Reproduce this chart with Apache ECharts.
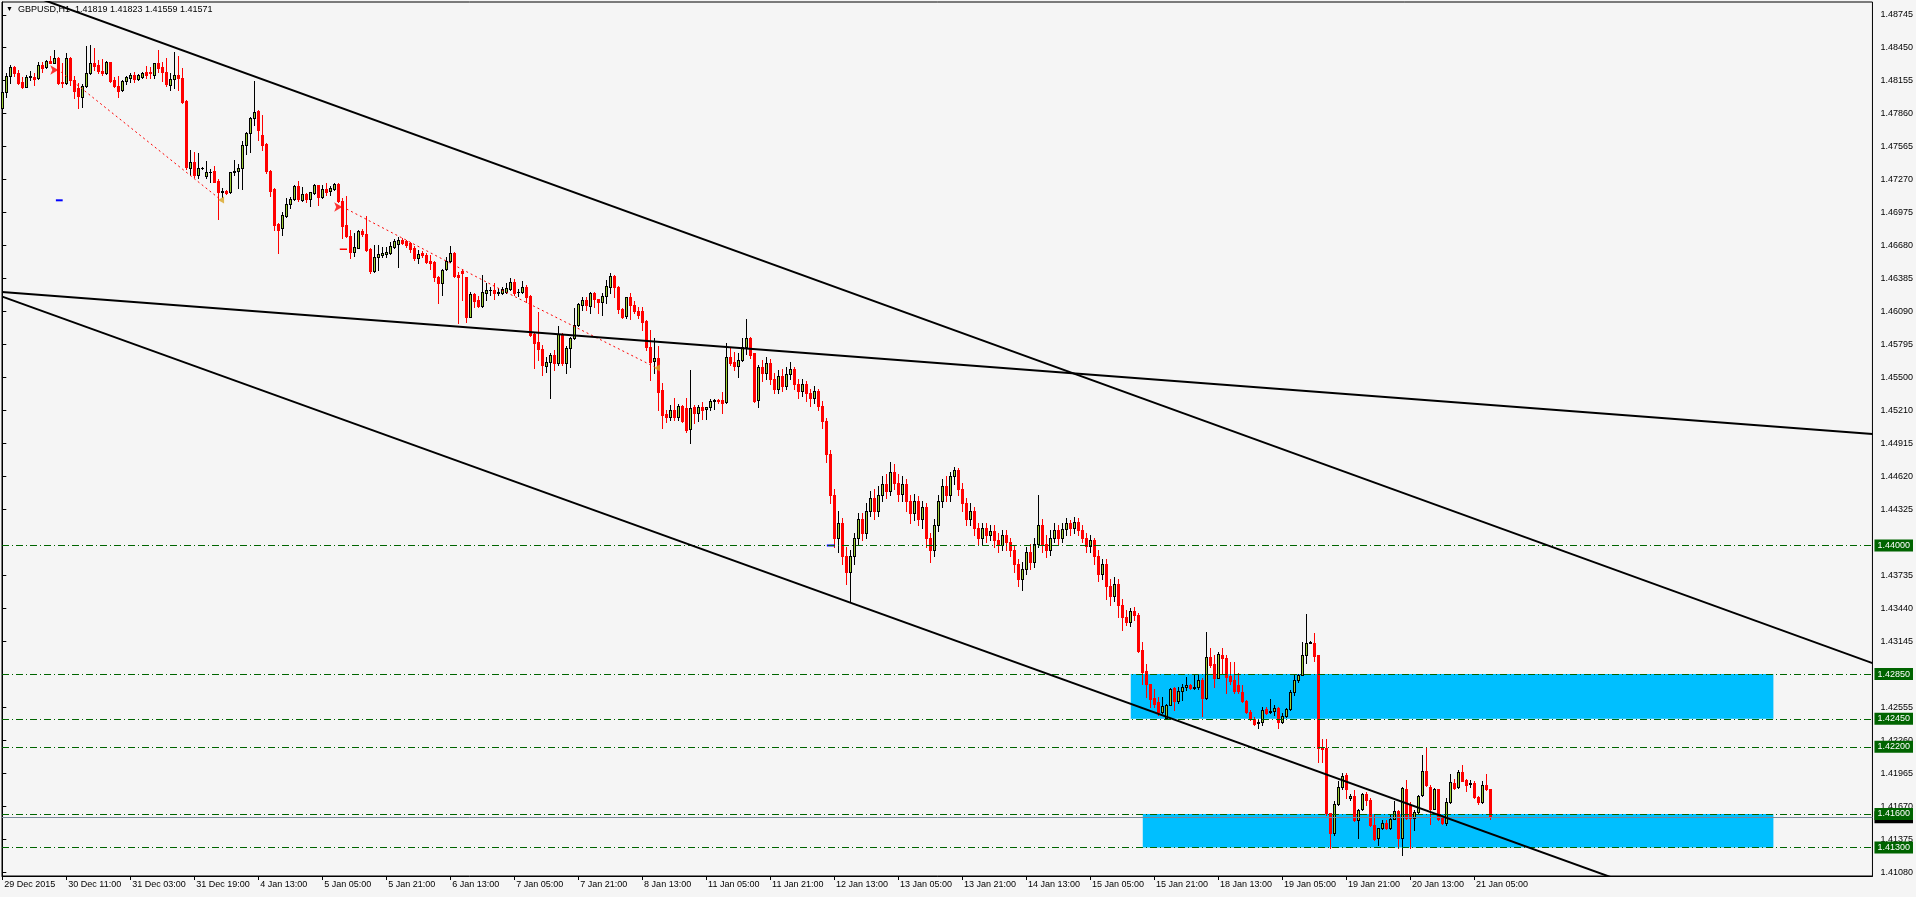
<!DOCTYPE html>
<html><head><meta charset="utf-8">
<script src="https://cdn.jsdelivr.net/npm/echarts@6/dist/echarts.min.js"></script>
<style>html,body{margin:0;padding:0;background:#f5f5f5}#c{width:1916px;height:897px}</style>
</head><body><div id="c"></div>
<script>
const timeLabels = ['29 Dec 2015','30 Dec 11:00','31 Dec 03:00','31 Dec 19:00','4 Jan 13:00','5 Jan 05:00','5 Jan 21:00','6 Jan 13:00','7 Jan 05:00','7 Jan 21:00','8 Jan 13:00','11 Jan 05:00','11 Jan 21:00','12 Jan 13:00','13 Jan 05:00','13 Jan 21:00','14 Jan 13:00','15 Jan 05:00','15 Jan 21:00','18 Jan 13:00','19 Jan 05:00','19 Jan 21:00','20 Jan 13:00','21 Jan 05:00'];
const priceTicks = [1.48745,1.48450,1.48155,1.47860,1.47565,1.47270,1.46975,1.46680,1.46385,1.46090,1.45795,1.45500,1.45210,1.44915,1.44620,1.44325,1.43735,1.43440,1.43145,1.42850,1.42555,1.42260,1.41965,1.41670,1.41375,1.41080];
// [open, high, low, close] per H1 bar
const bars = [
[1.47908,1.48087,1.47893,1.48057],[1.48057,1.48227,1.48013,1.48197],[1.48197,1.48296,1.48132,1.48275],[1.48275,1.48287,1.48197,1.48227],
[1.48227,1.48251,1.48126,1.48138],[1.48147,1.48185,1.48087,1.48102],[1.48102,1.48206,1.48096,1.48185],[1.48191,1.48245,1.48162,1.48197],
[1.48191,1.48227,1.48117,1.48174],[1.48177,1.48326,1.48171,1.48296],[1.48296,1.48326,1.48236,1.48272],[1.48275,1.48340,1.48266,1.48329],
[1.48332,1.48376,1.48311,1.48317],[1.48317,1.48430,1.48311,1.48355],[1.48361,1.48370,1.48126,1.48138],[1.48147,1.48311,1.48102,1.48132],
[1.48132,1.48400,1.48126,1.48355],[1.48355,1.48364,1.48117,1.48162],[1.48162,1.48197,1.47998,1.48066],[1.48087,1.48132,1.47908,1.48019],
[1.48013,1.48126,1.47917,1.48108],[1.48108,1.48466,1.48102,1.48221],[1.48221,1.48475,1.48215,1.48317],[1.48317,1.48445,1.48251,1.48287],
[1.48296,1.48340,1.48221,1.48245],[1.48245,1.48346,1.48206,1.48221],[1.48221,1.48329,1.48215,1.48323],[1.48323,1.48326,1.48147,1.48156],
[1.48162,1.48191,1.48102,1.48111],[1.48111,1.48197,1.48007,1.48066],[1.48072,1.48162,1.48066,1.48153],[1.48156,1.48197,1.48126,1.48185],
[1.48182,1.48220,1.48146,1.48206],[1.48206,1.48235,1.48146,1.48167],[1.48167,1.48212,1.48161,1.48206],[1.48191,1.48235,1.48176,1.48220],
[1.48229,1.48289,1.48176,1.48206],[1.48229,1.48280,1.48176,1.48220],[1.48206,1.48316,1.48176,1.48310],[1.48310,1.48429,1.48235,1.48271],
[1.48280,1.48325,1.48152,1.48229],[1.48235,1.48361,1.48110,1.48122],[1.48116,1.48220,1.48072,1.48167],[1.48167,1.48414,1.48086,1.48203],
[1.48206,1.48378,1.48072,1.48176],[1.48182,1.48265,1.47952,1.47967],[1.47973,1.47982,1.47365,1.47386],[1.47377,1.47535,1.47312,1.47431],
[1.47431,1.47520,1.47297,1.47312],[1.47312,1.47505,1.47282,1.47371],[1.47371,1.47383,1.47365,1.47377],[1.47306,1.47437,1.47282,1.47338],
[1.47335,1.47365,1.47252,1.47341],[1.47347,1.47395,1.47246,1.47252],[1.47258,1.47276,1.46918,1.47157],[1.47163,1.47198,1.47118,1.47169],
[1.47169,1.47178,1.47139,1.47148],[1.47157,1.47341,1.47151,1.47335],[1.47341,1.47446,1.47312,1.47347],[1.47350,1.47407,1.47192,1.47377],
[1.47377,1.47616,1.47186,1.47580],[1.47580,1.47699,1.47496,1.47684],[1.47684,1.47833,1.47520,1.47818],[1.47818,1.48150,1.47759,1.47872],
[1.47885,1.47893,1.47625,1.47715],[1.47670,1.47849,1.47536,1.47581],[1.47589,1.47595,1.47327,1.47351],[1.47351,1.47357,1.47125,1.47172],
[1.47187,1.47193,1.46821,1.46865],[1.46874,1.46880,1.46612,1.46821],[1.46836,1.46985,1.46776,1.46955],[1.46946,1.47104,1.46940,1.47050],
[1.47050,1.47113,1.47014,1.47095],[1.47095,1.47220,1.47089,1.47214],[1.47214,1.47259,1.47083,1.47095],[1.47089,1.47202,1.47083,1.47142],
[1.47142,1.47154,1.47074,1.47095],[1.47101,1.47163,1.47035,1.47160],[1.47154,1.47229,1.47142,1.47220],[1.47220,1.47223,1.47044,1.47119],
[1.47119,1.47223,1.47104,1.47187],[1.47187,1.47238,1.47137,1.47160],[1.47172,1.47214,1.47134,1.47196],[1.47184,1.47244,1.47178,1.47232],
[1.47232,1.47238,1.47074,1.47083],[1.47083,1.47104,1.46752,1.46859],[1.46865,1.47125,1.46761,1.46770],[1.46767,1.46821,1.46573,1.46624],
[1.46627,1.46791,1.46588,1.46666],[1.46663,1.46821,1.46657,1.46812],[1.46812,1.46827,1.46767,1.46782],[1.46785,1.46949,1.46636,1.46642],
[1.46651,1.46657,1.46439,1.46457],[1.46457,1.46687,1.46448,1.46582],[1.46582,1.46687,1.46463,1.46606],[1.46597,1.46671,1.46582,1.46618],
[1.46606,1.46671,1.46582,1.46627],[1.46618,1.46716,1.46606,1.46677],[1.46671,1.46740,1.46656,1.46722],[1.46695,1.46755,1.46493,1.46731],
[1.46731,1.46746,1.46695,1.46707],[1.46722,1.46731,1.46671,1.46686],[1.46701,1.46716,1.46627,1.46648],[1.46656,1.46677,1.46552,1.46567],
[1.46567,1.46642,1.46522,1.46606],[1.46618,1.46636,1.46576,1.46597],[1.46597,1.46612,1.46522,1.46537],[1.46546,1.46597,1.46469,1.46522],
[1.46537,1.46546,1.46367,1.46397],[1.46397,1.46409,1.46171,1.46344],[1.46344,1.46469,1.46239,1.46463],[1.46469,1.46576,1.46463,1.46546],
[1.46546,1.46677,1.46537,1.46612],[1.46618,1.46624,1.46403,1.46409],[1.46418,1.46448,1.45992,1.46397],[1.46457,1.46469,1.46195,1.46433],
[1.46397,1.46403,1.46001,1.46040],[1.46046,1.46269,1.46040,1.46248],[1.46248,1.46254,1.46135,1.46189],[1.46195,1.46230,1.46135,1.46141],
[1.46141,1.46418,1.46135,1.46269],[1.46260,1.46344,1.46195,1.46284],[1.46280,1.46314,1.46239,1.46284],[1.46284,1.46344,1.46201,1.46254],
[1.46254,1.46299,1.46239,1.46269],[1.46260,1.46314,1.46248,1.46290],[1.46269,1.46344,1.46254,1.46299],[1.46293,1.46388,1.46284,1.46352],
[1.46352,1.46379,1.46239,1.46260],[1.46263,1.46290,1.46230,1.46269],[1.46263,1.46367,1.46254,1.46308],[1.46308,1.46329,1.46180,1.46224],
[1.46230,1.46239,1.45873,1.45882],[1.45890,1.45902,1.45584,1.45813],[1.45822,1.46090,1.45658,1.45753],[1.45753,1.45792,1.45524,1.45613],
[1.45607,1.45688,1.45554,1.45637],[1.45637,1.45718,1.45315,1.45703],[1.45703,1.45747,1.45569,1.45628],[1.45628,1.45962,1.45613,1.45890],
[1.45890,1.45902,1.45613,1.45634],[1.45634,1.45783,1.45539,1.45762],[1.45762,1.45867,1.45592,1.45852],[1.45852,1.46120,1.45846,1.45971],
[1.45971,1.46171,1.45962,1.46159],[1.46150,1.46218,1.46105,1.46194],[1.46194,1.46224,1.46105,1.46150],[1.46144,1.46269,1.46081,1.46254],
[1.46260,1.46263,1.46135,1.46200],[1.46200,1.46200,1.46081,1.46180],[1.46180,1.46254,1.46060,1.46230],[1.46230,1.46373,1.46171,1.46320],
[1.46314,1.46433,1.46260,1.46409],[1.46409,1.46418,1.46224,1.46314],[1.46314,1.46320,1.46075,1.46111],[1.46111,1.46120,1.46031,1.46045],
[1.46051,1.46224,1.46031,1.46218],[1.46218,1.46254,1.46022,1.46150],[1.46150,1.46190,1.46075,1.46100],[1.46100,1.46130,1.46034,1.46060],
[1.46100,1.46130,1.45926,1.46001],[1.46007,1.46016,1.45747,1.45771],[1.45777,1.45926,1.45479,1.45643],[1.45652,1.45852,1.45539,1.45673],
[1.45673,1.45783,1.45211,1.45375],[1.45390,1.45455,1.45047,1.45166],[1.45175,1.45211,1.45107,1.45145],[1.45151,1.45256,1.45122,1.45211],
[1.45211,1.45315,1.45122,1.45151],[1.45151,1.45265,1.45122,1.45247],[1.45247,1.45256,1.45107,1.45116],[1.45229,1.45315,1.45017,1.45032],
[1.45038,1.45569,1.44919,1.45226],[1.45235,1.45256,1.45092,1.45187],[1.45187,1.45256,1.45116,1.45235],[1.45235,1.45283,1.45128,1.45211],
[1.45217,1.45241,1.45134,1.45235],[1.45235,1.45306,1.45211,1.45292],[1.45294,1.45306,1.45223,1.45300],[1.45300,1.45310,1.45270,1.45294],
[1.45300,1.45375,1.45187,1.45271],[1.45286,1.45807,1.45277,1.45682],[1.45682,1.45777,1.45613,1.45628],[1.45643,1.45733,1.45569,1.45604],
[1.45604,1.45724,1.45509,1.45658],[1.45658,1.45852,1.45652,1.45777],[1.45777,1.46022,1.45712,1.45852],[1.45852,1.45861,1.45673,1.45703],
[1.45718,1.45724,1.45286,1.45294],[1.45300,1.45613,1.45235,1.45598],
[1.45600,1.45655,1.45469,1.45545],[1.45545,1.45687,1.45491,1.45633],[1.45633,1.45666,1.45447,1.45491],[1.45491,1.45545,1.45360,1.45403],
[1.45403,1.45567,1.45360,1.45513],[1.45513,1.45578,1.45382,1.45425],[1.45425,1.45600,1.45403,1.45535],[1.45535,1.45644,1.45491,1.45578],
[1.45578,1.45600,1.45403,1.45447],[1.45447,1.45491,1.45316,1.45382],[1.45382,1.45491,1.45338,1.45447],[1.45447,1.45469,1.45294,1.45360],
[1.45360,1.45403,1.45251,1.45316],[1.45316,1.45425,1.45272,1.45382],[1.45382,1.45403,1.45207,1.45251],[1.45251,1.45294,1.45054,1.45109],
[1.45109,1.45141,1.44748,1.44814],[1.44814,1.44857,1.44377,1.44453],[1.44453,1.44508,1.43984,1.44071],[1.44071,1.44311,1.43940,1.44202],
[1.44202,1.44246,1.43831,1.43907],[1.43907,1.43984,1.43656,1.43765],[1.43765,1.43962,1.43503,1.43907],[1.43907,1.44115,1.43831,1.44071],
[1.44071,1.44290,1.44017,1.44235],[1.44235,1.44290,1.44049,1.44115],[1.44115,1.44377,1.44071,1.44311],[1.44311,1.44486,1.44268,1.44421],
[1.44421,1.44508,1.44235,1.44311],[1.44311,1.44530,1.44268,1.44453],[1.44453,1.44617,1.44399,1.44552],[1.44552,1.44639,1.44421,1.44486],
[1.44486,1.44748,1.44453,1.44661],[1.44661,1.44726,1.44508,1.44563],[1.44563,1.44639,1.44399,1.44464],[1.44464,1.44617,1.44399,1.44552],
[1.44552,1.44595,1.44311,1.44399],[1.44399,1.44453,1.44202,1.44290],[1.44290,1.44464,1.44224,1.44399],[1.44399,1.44442,1.44180,1.44235],
[1.44235,1.44399,1.44159,1.44344],[1.44344,1.44377,1.43984,1.44071],[1.44071,1.44115,1.43853,1.43962],[1.43962,1.44235,1.43907,1.44180],
[1.44180,1.44453,1.44126,1.44399],[1.44399,1.44595,1.44344,1.44530],[1.44530,1.44617,1.44399,1.44453],[1.44453,1.44661,1.44399,1.44617],
[1.44617,1.44705,1.44552,1.44672],[1.44672,1.44694,1.44453,1.44508],[1.44508,1.44563,1.44311,1.44377],[1.44377,1.44421,1.44180,1.44235],
[1.44235,1.44377,1.44180,1.44311],[1.44311,1.44344,1.44093,1.44159],[1.44159,1.44202,1.44017,1.44071],[1.44071,1.44202,1.44006,1.44159],
[1.44159,1.44202,1.44028,1.44093],[1.44093,1.44180,1.44049,1.44126],[1.44126,1.44180,1.43984,1.44049],[1.44049,1.44115,1.43940,1.44006],
[1.44006,1.44137,1.43962,1.44093],[1.44093,1.44137,1.43962,1.44028],[1.44028,1.44071,1.43907,1.43962],[1.43962,1.44006,1.43765,1.43831],
[1.43831,1.43875,1.43634,1.43700],[1.43700,1.43853,1.43602,1.43787],[1.43787,1.43984,1.43744,1.43940],[1.43940,1.44017,1.43787,1.43853],
[1.43853,1.44071,1.43809,1.44017],[1.44017,1.44453,1.43984,1.44180],[1.44180,1.44235,1.43940,1.44017],[1.44017,1.44093,1.43897,1.43962],
[1.43962,1.44137,1.43918,1.44071],[1.44071,1.44202,1.44028,1.44137],[1.44137,1.44180,1.44006,1.44071],[1.44071,1.44202,1.44028,1.44148],
[1.44148,1.44246,1.44093,1.44202],[1.44202,1.44224,1.44093,1.44159],[1.44159,1.44257,1.44115,1.44213],[1.44213,1.44246,1.44093,1.44137],
[1.44137,1.44180,1.44028,1.44071],[1.44071,1.44115,1.43940,1.43995],[1.43995,1.44093,1.43940,1.44049],[1.44049,1.44071,1.43831,1.43907],
[1.43907,1.43962,1.43678,1.43744],[1.43744,1.43875,1.43700,1.43831],[1.43831,1.43875,1.43525,1.43634],[1.43634,1.43700,1.43471,1.43547],
[1.43547,1.43722,1.43503,1.43656],[1.43656,1.43700,1.43361,1.43471],[1.43471,1.43525,1.43243,1.43361],
[1.43361,1.43420,1.43287,1.43320],[1.43320,1.43440,1.43281,1.43410],[1.43410,1.43450,1.43338,1.43380],[1.43380,1.43400,1.43049,1.43058],
[1.43064,1.43138,1.42766,1.42870],[1.42879,1.42936,1.42647,1.42766],[1.42760,1.42766,1.42557,1.42626],[1.42632,1.42721,1.42557,1.42587],
[1.42602,1.42647,1.42483,1.42513],[1.42507,1.42647,1.42498,1.42566],[1.42459,1.42587,1.42453,1.42578],[1.42578,1.42727,1.42572,1.42721],
[1.42727,1.42736,1.42528,1.42608],[1.42608,1.42736,1.42596,1.42697],[1.42697,1.42766,1.42617,1.42736],[1.42733,1.42826,1.42706,1.42757],
[1.42757,1.42766,1.42715,1.42727],[1.42730,1.42841,1.42721,1.42736],[1.42736,1.42841,1.42721,1.42793],[1.42793,1.42811,1.42477,1.42638],
[1.42632,1.43228,1.42626,1.43004],[1.43004,1.43079,1.42915,1.42930],[1.42936,1.43025,1.42736,1.42817],[1.42817,1.43049,1.42811,1.43034],
[1.43025,1.43085,1.42855,1.42995],[1.42995,1.43025,1.42677,1.42826],[1.42834,1.42960,1.42766,1.42787],[1.42796,1.42960,1.42677,1.42697],
[1.42757,1.42861,1.42677,1.42697],[1.42691,1.42751,1.42602,1.42608],[1.42608,1.42617,1.42498,1.42513],[1.42513,1.42528,1.42438,1.42447],
[1.42453,1.42468,1.42399,1.42408],[1.42417,1.42438,1.42364,1.42423],[1.42423,1.42557,1.42393,1.42528],[1.42537,1.42557,1.42489,1.42498],
[1.42507,1.42623,1.42498,1.42519],[1.42519,1.42578,1.42483,1.42548],[1.42548,1.42557,1.42370,1.42423],[1.42423,1.42498,1.42417,1.42477],
[1.42477,1.42548,1.42465,1.42537],[1.42537,1.42706,1.42528,1.42691],[1.42691,1.42846,1.42662,1.42796],[1.42796,1.42855,1.42781,1.42846],
[1.42846,1.43138,1.42841,1.43025],[1.43025,1.43390,1.42945,1.43124],[1.43132,1.43144,1.43124,1.43138],[1.43132,1.43222,1.42966,1.43013],
[1.43019,1.43025,1.42066,1.42191],[1.42200,1.42268,1.42060,1.42179],[1.42185,1.42274,1.41589,1.41604],[1.41604,1.41610,1.41291,1.41425],
[1.41425,1.41714,1.41416,1.41693],[1.41693,1.41893,1.41684,1.41842],[1.41842,1.41970,1.41827,1.41941],[1.41947,1.41962,1.41738,1.41827],
[1.41744,1.41774,1.41723,1.41762],[1.41762,1.41812,1.41538,1.41544],[1.41544,1.41648,1.41389,1.41634],[1.41642,1.41791,1.41636,1.41782],
[1.41782,1.41797,1.41678,1.41723],[1.41723,1.41744,1.41493,1.41499],[1.41505,1.41589,1.41365,1.41380],[1.41386,1.41476,1.41321,1.41470],
[1.41470,1.41544,1.41464,1.41523],[1.41523,1.41544,1.41464,1.41470],[1.41476,1.41589,1.41464,1.41559],[1.41559,1.41714,1.41553,1.41625],
[1.41625,1.41634,1.41291,1.41381],[1.41387,1.41842,1.41237,1.41833],[1.41827,1.41902,1.41559,1.41565],[1.41678,1.41708,1.41297,1.41565],
[1.41565,1.41634,1.41455,1.41613],[1.41613,1.41768,1.41604,1.41762],[1.41768,1.42131,1.41762,1.41982],[1.41988,1.42200,1.41851,1.41857],
[1.41842,1.41857,1.41514,1.41648],[1.41648,1.41833,1.41642,1.41827],[1.41821,1.41827,1.41544,1.41559],[1.41574,1.41589,1.41514,1.41523],
[1.41523,1.41738,1.41499,1.41708],[1.41708,1.41953,1.41702,1.41885],[1.41876,1.41911,1.41827,1.41833],[1.41842,1.41991,1.41833,1.41976],
[1.41976,1.42036,1.41891,1.41897],[1.41900,1.41909,1.41803,1.41863],[1.41866,1.41902,1.41842,1.41872],[1.41872,1.41891,1.41744,1.41753],
[1.41753,1.41762,1.41693,1.41708],[1.41708,1.41891,1.41702,1.41863],[1.41863,1.41953,1.41812,1.41821],[1.41819,1.41823,1.41559,1.41571]
];
const levels = [1.44000, 1.42850, 1.42450, 1.42200, 1.41600, 1.41300];
const lastPrice = 1.41571;
const zones = [[282.2, 1.42850, 442.9, 1.42450], [285.2, 1.41600, 442.9, 1.41300]];
const trendLines = [
  [[0, 1.49011], [467.675, 1.42948]],
  [[-0.075, 1.46266], [467.675, 1.44996]],
  [[0, 1.46225], [420, 1.40806]]
];
const zigzagLines = [
  [[13.75, 1.48260], [54.4, 1.47097]],
  [[85, 1.47029], [124.4, 1.46293], [163.2, 1.45595]]
];
const goldMarks = [[54.7, 1.47088], [163.7, 1.45586]];
const redArrows = [[14, 1.48251], [85, 1.47026]];
const blueDashes = [[[13.4, 1.47086], [15.1, 1.47086]], [[206.2, 1.44000], [208.2, 1.44000]]];
const redDashes = [[[84.4, 1.46648], [86.2, 1.46648]]];

const FONT = 'Liberation Sans';
const tickIdx = timeLabels.map((_, k) => k * 16);

function renderCandle(params, api) {
  const i = api.value(0), o = api.value(1), h = api.value(2), l = api.value(3), c = api.value(4);
  const po = api.coord([i, o]), pc = api.coord([i, c]), ph = api.coord([i, h]), pl = api.coord([i, l]);
  const cx = Math.round(po[0]);
  const bull = c >= o;
  const yT = Math.round(Math.min(po[1], pc[1])), yB = Math.round(Math.max(po[1], pc[1]));
  const yH = Math.round(ph[1]), yL = Math.round(pl[1]);
  const ch = [];
  ch.push({type: 'rect', shape: {x: cx, y: yH, width: 1, height: Math.max(1, yL - yH + 1)}, style: {fill: bull ? '#000' : '#ff0000'}});
  if (bull) {
    ch.push({type: 'rect', shape: {x: cx - 1, y: yT, width: 3, height: Math.max(1, yB - yT + 1)}, style: {fill: '#000'}});
    if (yB - yT >= 2) ch.push({type: 'rect', shape: {x: cx, y: yT + 1, width: 1, height: yB - yT - 1}, style: {fill: '#9acd32'}});
  } else {
    ch.push({type: 'rect', shape: {x: cx - 1, y: yT, width: 3, height: Math.max(1, yB - yT + 1)}, style: {fill: '#ff0000'}});
  }
  return {type: 'group', children: ch};
}

const chart = echarts.init(document.getElementById('c'), null, {renderer: 'canvas'});
const series = [];
series.push({
  type: 'line', data: [], z: 1, silent: true,
  markArea: {silent: true, itemStyle: {color: '#00bfff', opacity: 1},
    data: zones.map(zn => [{xAxis: zn[0], yAxis: zn[1]}, {xAxis: zn[2], yAxis: zn[3]}])}
});
series.push({
  type: 'custom', z: 3, silent: true, renderItem: renderCandle,
  encode: {x: 0, y: [1, 2, 3, 4]},
  data: bars.map((b, i) => [i, b[0], b[1], b[2], b[3]])
});
series.push({
  type: 'line', data: [], z: 4, silent: true,
  markLine: {silent: true, symbol: ['none', 'none'], animation: false, precision: 5,
    lineStyle: {color: '#778899', type: 'solid', width: 1},
    label: {show: true, position: 'end', distance: 2, formatter: p => Number(p.value).toFixed(5), color: '#fff', backgroundColor: '#000', padding: [2, 3, 1, 3], fontSize: 9, fontFamily: FONT},
    data: [{yAxis: lastPrice}]}
});
series.push({
  type: 'line', data: [], z: 5, silent: true,
  markLine: {silent: true, symbol: ['none', 'none'], animation: false, precision: 5,
    lineStyle: {color: '#006400', type: [7, 3, 1, 3], width: 1},
    label: {show: true, position: 'end', distance: 2, formatter: p => Number(p.value).toFixed(5), color: '#fff', backgroundColor: '#006400', padding: [2, 3, 1, 3], fontSize: 9, fontFamily: FONT},
    data: levels.map(v => ({yAxis: v}))}
});
trendLines.forEach(tl => series.push({type: 'line', data: tl, z: 6, silent: true, symbol: 'none', clip: true, lineStyle: {color: '#000', width: 2}}));
zigzagLines.forEach(zl => series.push({type: 'line', data: zl, z: 4, silent: true, symbol: 'none', clip: true, lineStyle: {color: '#ff0000', width: 1, type: [2, 3]}}));
blueDashes.forEach(d => series.push({type: 'line', data: d, z: 4, silent: true, symbol: 'none', lineStyle: {color: '#0000ff', width: 2}}));
redDashes.forEach(d => series.push({type: 'line', data: d, z: 4, silent: true, symbol: 'none', lineStyle: {color: '#ff0000', width: 1.5}}));
series.push({type: 'scatter', data: goldMarks, z: 7, silent: true, symbol: 'triangle', symbolRotate: 90, symbolSize: [7, 6], itemStyle: {color: '#daa520'}});
series.push({type: 'scatter', data: redArrows, z: 7, silent: true, symbol: 'arrow', symbolRotate: -90, symbolSize: [7, 8], itemStyle: {color: '#ff0000'}});

chart.setOption({
  animation: false,
  backgroundColor: '#f5f5f5',
  title: {text: '{a|▼}  GBPUSD,H1  1.41819 1.41823 1.41559 1.41571', left: 6, top: 5, padding: 0,
    textStyle: {fontSize: 9, fontWeight: 'normal', color: '#000', fontFamily: FONT, rich: {a: {fontSize: 7, color: '#000', fontFamily: FONT}}}},
  grid: {left: 2, right: 43, top: 2, bottom: 21, show: true, borderColor: '#000', borderWidth: 1, backgroundColor: 'transparent'},
  xAxis: {type: 'value', min: -0.075, max: 467.675,
    axisLine: {show: true, lineStyle: {color: '#000'}},
    axisTick: {show: true, customValues: tickIdx, length: 4, lineStyle: {color: '#000'}},
    axisLabel: {customValues: tickIdx, formatter: v => timeLabels[Math.round(v / 16)] || '', align: 'left', margin: 4, fontSize: 9, color: '#000', fontFamily: FONT, padding: [0, 0, 0, 2]},
    splitLine: {show: false}},
  yAxis: {type: 'value', position: 'right', min: 1.41045, max: 1.48859,
    axisLine: {show: true, lineStyle: {color: '#000'}},
    axisTick: {show: true, customValues: priceTicks, length: 4, lineStyle: {color: '#000'}},
    axisLabel: {customValues: priceTicks, formatter: v => v.toFixed(5), margin: 8, fontSize: 9, color: '#000', fontFamily: FONT},
    splitLine: {show: false}},
  series: series
});
</script></body></html>
